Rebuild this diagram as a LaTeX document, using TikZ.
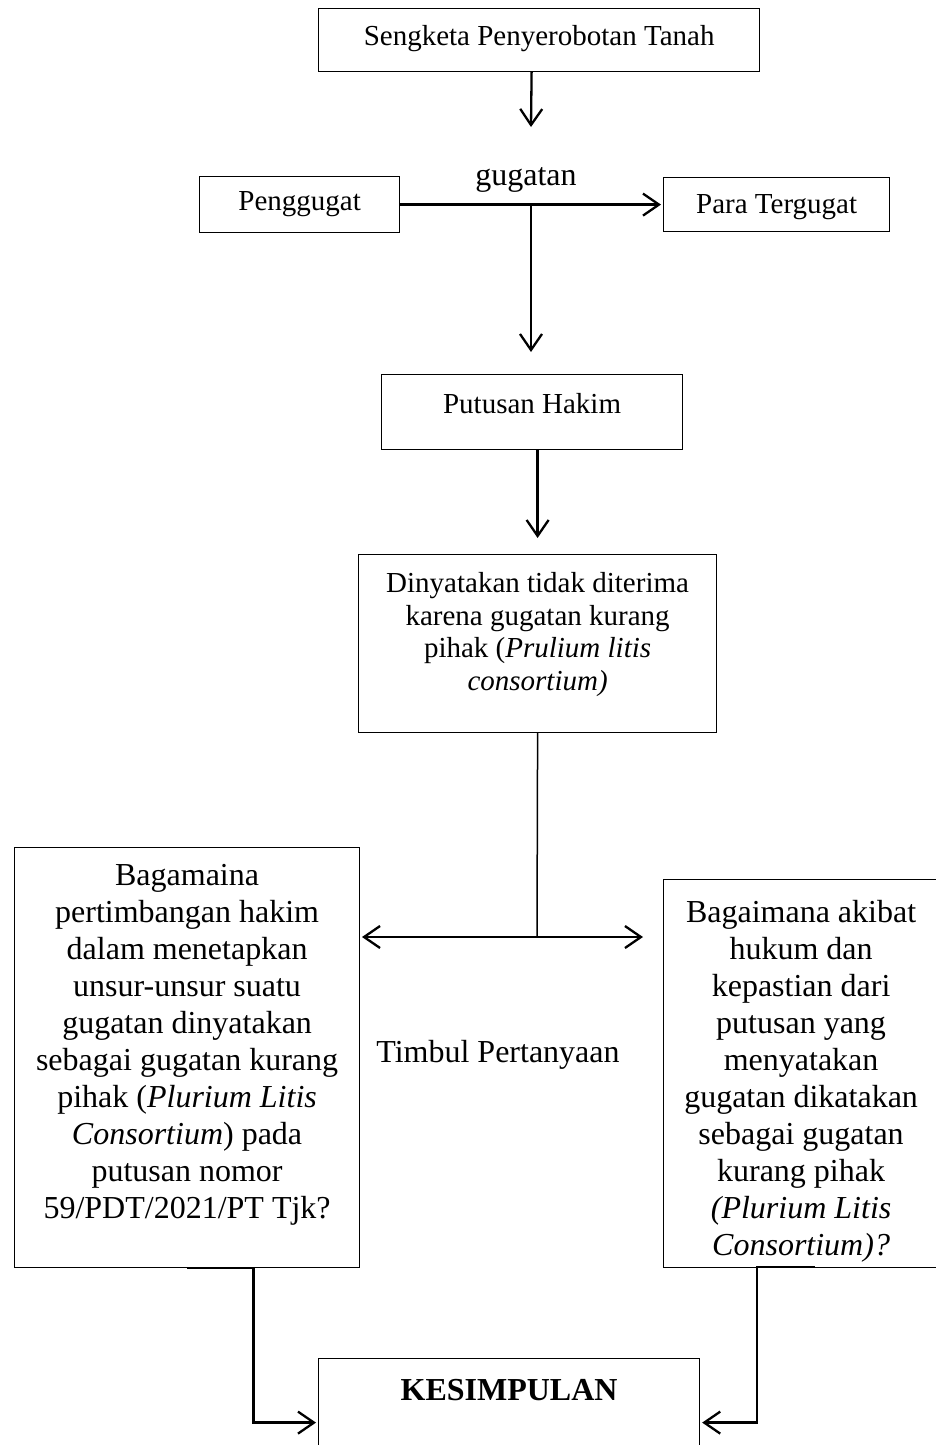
\documentclass[tikz,border=0pt]{standalone}
\usepackage{fontspec}
\setmainfont{Liberation Serif}
\usetikzlibrary{arrows.meta}
\newcommand{\tbox}[4]{\parbox[c][#2][t]{#1}{\centering\vspace*{#3}\strut#4\par}}
\tikzset{
  box/.style={draw=black, line width=1.2pt, inner sep=0pt, anchor=north west},
  mid/.style={font=\fontsize{29}{33.4}\selectfont},
  big/.style={font=\fontsize{32}{37}\selectfont},
  conn/.style={line width=2.3pt, line join=miter},
  arr/.style={conn, -{Straight Barb[length=16pt,width=22pt]}},
  darr/.style={conn, {Straight Barb[length=16pt,width=22pt]}-{Straight Barb[length=16pt,width=22pt]}},
  thinline/.style={line width=1.5pt},
}
\begin{document}
\begin{tikzpicture}[x=1pt,y=-1pt]
\path[use as bounding box] (0,0) rectangle (936,1445);
\clip (0,0) rectangle (936,1445);

\node[box,mid] (sengketa) at (318,8) {\tbox{441pt}{63pt}{14pt}{Sengketa Penyerobotan Tanah}};
\node[box,mid] (peng) at (199,176) {\tbox{200pt}{56pt}{10.6pt}{Penggugat}};
\node[box,mid] (para) at (663,177) {\tbox{226pt}{54pt}{12.6pt}{Para Tergugat}};
\node[big,anchor=base] (gug) at (526,185) {gugatan};
\node[box,mid] (putusan) at (381,374) {\tbox{301pt}{75pt}{15.6pt}{Putusan Hakim}};
\node[box,font=\fontsize{29}{32.5}\selectfont] (din) at (358,554)
  {\tbox{358pt}{178pt}{15.2pt}{Dinyatakan tidak diterima\\karena gugatan kurang\\pihak (\textit{Prulium litis}\\\textit{consortium)}}};
\node[box,big] (lq) at (14,847)
  {\tbox{345pt}{420pt}{12.1pt}{Bagamaina\\pertimbangan hakim\\dalam menetapkan\\unsur-unsur suatu\\gugatan dinyatakan\\sebagai gugatan kurang\\pihak (\textit{Plurium Litis}\\\textit{Consortium}) pada\\putusan nomor\\59/PDT/2021/PT Tjk?}};
\node[box,big] (rq) at (663,879)
  {\tbox{275pt}{388pt}{17pt}{Bagaimana akibat\\hukum dan\\kepastian dari\\putusan yang\\menyatakan\\gugatan dikatakan\\sebagai gugatan\\kurang pihak\\\textit{(Plurium Litis}\\\textit{Consortium)?}}};
\node[big,anchor=base] (timbul) at (498,1062) {Timbul Pertanyaan};
\node[box,font=\bfseries\fontsize{32}{37}\selectfont] (kes) at (318,1358) {\tbox{381pt}{128pt}{16pt}{KESIMPULAN}};

% connectors
\coordinate (a1end) at (531,127);
\draw[arr] ([xshift=-7.5pt]sengketa.south) -- (a1end);
\draw[arr, shorten >=2pt] (peng.east) -- (peng.east -| para.west);
\coordinate (j) at (531,204);
\coordinate (a2end) at (531,352);
\draw[arr] (j) -- (a2end);
\draw[arr] (putusan.south -| din.north) -- ([yshift=16pt]din.north);
\coordinate (fork) at (537,937);
\draw[thinline] (din.south) -- (fork);
\coordinate (qL) at (362,937);
\coordinate (qR) at (643,937);
\draw[darr] (qL) -- (qR);
\draw[arr, shorten >=2pt] (lq.south) -- ++(66.5,0) |- (kes.west);
\coordinate (rs) at (815,1267);
\draw[arr, shorten >=2pt] (rs) -- ++(-58,0) |- (kes.east);
\end{tikzpicture}
\end{document}
